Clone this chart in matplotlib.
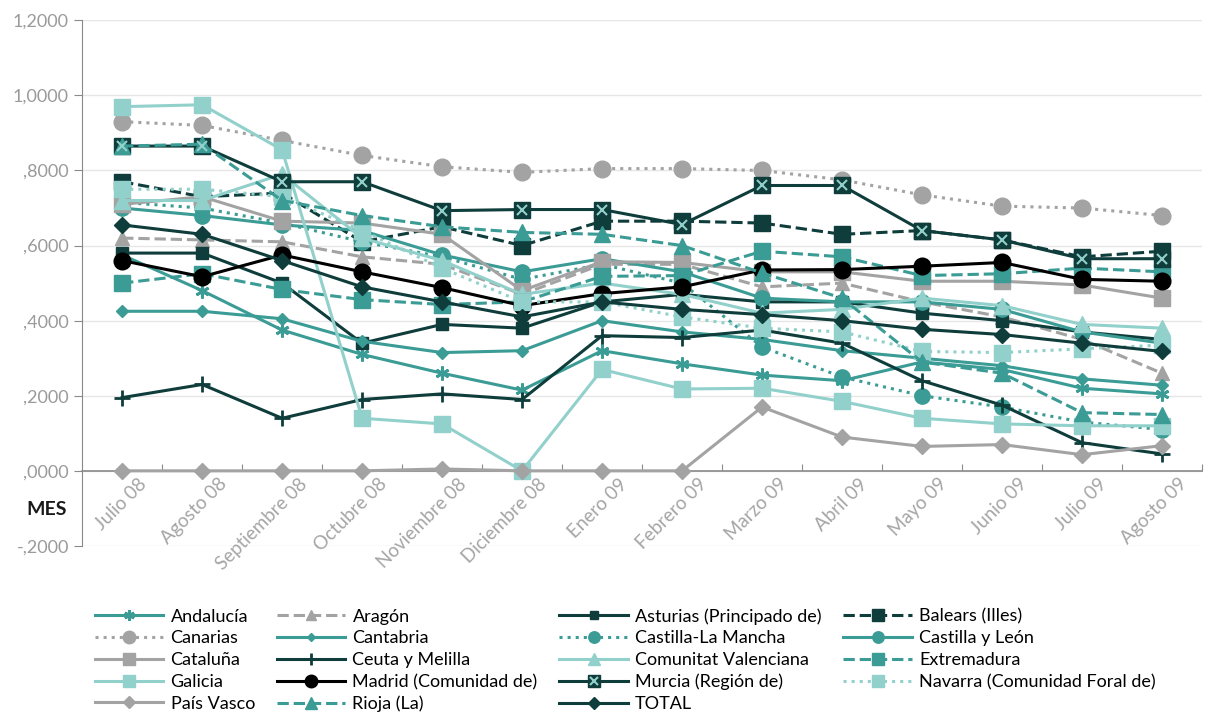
import numpy as np
import matplotlib
matplotlib.use("Agg")
from matplotlib import pyplot as plt
from matplotlib.ticker import FuncFormatter, FixedLocator
from matplotlib.legend_handler import HandlerTuple

plt.rcParams['font.family'] = ['Lato', 'DejaVu Sans']

# meses
meses = ['Julio 08', 'Agosto 08', 'Septiembre 08', 'Octubre 08', 'Noviembre 08',
         'Diciembre 08', 'Enero 09', 'Febrero 09', 'Marzo 09', 'Abril 09',
         'Mayo 09', 'Junio 09', 'Julio 09', 'Agosto 09']

# valores por comunidad
andalucia = [0.575, 0.48, 0.375, 0.31, 0.26, 0.215, 0.32, 0.285, 0.255, 0.24, 0.29, 0.27, 0.22, 0.205]
aragon = [0.62, 0.615, 0.61, 0.57, 0.55, 0.47, 0.55, 0.55, 0.49, 0.50, 0.45, 0.41, 0.35, 0.26]
asturias = [0.58, 0.58, 0.50, 0.34, 0.39, 0.38, 0.45, 0.47, 0.45, 0.45, 0.42, 0.40, 0.37, 0.35]
balears = [0.77, 0.73, 0.74, 0.61, 0.65, 0.60, 0.665, 0.665, 0.66, 0.63, 0.64, 0.615, 0.57, 0.585]
canarias = [0.93, 0.92, 0.88, 0.84, 0.81, 0.795, 0.805, 0.805, 0.80, 0.775, 0.735, 0.705, 0.70, 0.68]
cantabria = [0.425, 0.425, 0.405, 0.345, 0.315, 0.32, 0.40, 0.37, 0.35, 0.32, 0.30, 0.28, 0.245, 0.228]
castilla_lm = [0.715, 0.70, 0.66, 0.61, 0.57, 0.51, 0.55, 0.50, 0.33, 0.25, 0.20, 0.17, 0.13, 0.11]
castilla_leon = [0.70, 0.68, 0.655, 0.64, 0.575, 0.53, 0.565, 0.53, 0.46, 0.45, 0.45, 0.43, 0.37, 0.34]
cataluna = [0.71, 0.73, 0.665, 0.66, 0.63, 0.48, 0.557, 0.555, 0.53, 0.53, 0.505, 0.505, 0.495, 0.46]
ceuta = [0.195, 0.23, 0.14, 0.19, 0.205, 0.19, 0.36, 0.355, 0.375, 0.34, 0.24, 0.175, 0.075, 0.045]
valenciana = [0.72, 0.72, 0.79, 0.62, 0.56, 0.47, 0.50, 0.47, 0.42, 0.43, 0.46, 0.44, 0.39, 0.38]
extremadura = [0.50, 0.525, 0.483, 0.456, 0.443, 0.45, 0.518, 0.52, 0.585, 0.57, 0.52, 0.525, 0.54, 0.53]
galicia = [0.97, 0.975, 0.855, 0.14, 0.125, 0.0, 0.27, 0.218, 0.22, 0.185, 0.14, 0.125, 0.12, 0.12]
madrid = [0.56, 0.517, 0.575, 0.53, 0.488, 0.44, 0.472, 0.49, 0.535, 0.536, 0.545, 0.555, 0.51, 0.505]
murcia = [0.865, 0.865, 0.77, 0.77, 0.693, 0.696, 0.696, 0.656, 0.76, 0.76, 0.64, 0.615, 0.565, 0.565]
navarra = [0.75, 0.75, 0.73, 0.64, 0.54, 0.45, 0.45, 0.41, 0.38, 0.37, 0.318, 0.315, 0.325, 0.335]
pais_vasco = [0.0, 0.0, 0.0, 0.0, 0.005, 0.0, 0.0, 0.0, 0.17, 0.09, 0.065, 0.07, 0.043, 0.067]
rioja = [0.865, 0.87, 0.72, 0.68, 0.65, 0.635, 0.63, 0.60, 0.527, 0.46, 0.29, 0.26, 0.155, 0.15]
total = [0.655, 0.63, 0.56, 0.49, 0.45, 0.41, 0.45, 0.43, 0.416, 0.40, 0.377, 0.363, 0.34, 0.318]

# colores
oscuro = '#0e3d3b'
medio = '#3b9b95'
claro = '#92d0cb'
gris = '#a3a3a3'
negro = '#000000'

# nombre, datos, color, estilo, marcador, tamaño
series = [
    ('Andalucía', andalucia, medio, '-', (6, 2, 0), 10),
    ('Aragón', aragon, gris, '--', '^', 10),
    ('Asturias (Principado de)', asturias, oscuro, '-', 's', 8),
    ('Balears (Illes)', balears, oscuro, '--', 's', 11),
    ('Canarias', canarias, gris, ':', 'o', 12),
    ('Cantabria', cantabria, medio, '-', 'D', 6),
    ('Castilla-La Mancha', castilla_lm, medio, ':', 'o', 11),
    ('Castilla y León', castilla_leon, medio, '-', 'o', 11),
    ('Cataluña', cataluna, gris, '-', 's', 11),
    ('Ceuta y Melilla', ceuta, oscuro, '-', '+', 12),
    ('Comunitat Valenciana', valenciana, claro, '-', '^', 11),
    ('Extremadura', extremadura, medio, '--', 's', 11),
    ('Galicia', galicia, claro, '-', 's', 12),
    ('Madrid (Comunidad de)', madrid, negro, '-', 'o', 12),
    ('Murcia (Región de)', murcia, oscuro, '-', 's', 12),
    ('Navarra (Comunidad Foral de)', navarra, claro, ':', 's', 12),
    ('País Vasco', pais_vasco, gris, '-', 'D', 8),
    ('Rioja (La)', rioja, medio, '--', '^', 11),
    ('TOTAL', total, oscuro, '-', 'D', 8),
]

fig = plt.figure(figsize=(12.08, 7.25), dpi=100)
ax = fig.add_axes([0.068, 0.247, 0.927, 0.725])

x = np.arange(len(meses))
handles = {}
for nombre, datos, color, estilo, marca, tam in series:
    mew = 2 if marca in ('+', (6, 2, 0)) else 1
    ln, = ax.plot(x, datos, color=color, linestyle=estilo, linewidth=2.2,
                  marker=marca, markersize=tam, markeredgewidth=mew,
                  markeredgecolor=color, zorder=3)
    h = ln
    if nombre.startswith('Murcia'):
        cruz, = ax.plot(x, datos, linestyle='none', marker='x', markersize=7,
                        markeredgewidth=1.5, color=claro, zorder=4)
        h = (ln, cruz)
    handles[nombre] = h

# ejes
ax.set_ylim(-0.2, 1.2)
ax.set_xlim(-0.5, 13.5)
ax.yaxis.set_major_locator(FixedLocator(np.arange(-0.2, 1.21, 0.2)))


def fmt(v, pos):
    s = '%.4f' % v
    s = s.replace('.', ',')
    if s.startswith('0,'):
        s = s[1:]
    if s.startswith('-0,'):
        s = '-' + s[2:]
    if s == '-,0000':
        s = ',0000'
    return s


ax.yaxis.set_major_formatter(FuncFormatter(fmt))
ax.grid(axis='y', color='#e6e6e6', linewidth=1)
ax.set_axisbelow(True)
for s in ['top', 'right']:
    ax.spines[s].set_visible(False)
ax.spines['left'].set_color('#8a8a8a')
ax.spines['bottom'].set_position(('data', 0))
ax.spines['bottom'].set_color('#8a8a8a')
ax.spines['bottom'].set_linewidth(1.2)
ax.tick_params(axis='y', colors='#8a8a8a', labelsize=13, length=6, labelcolor='#9a9a9a')
ax.set_xticks(np.arange(0.5, 13.6, 1))
ax.set_xticklabels([])
ax.tick_params(axis='x', direction='in', length=5, colors='#8a8a8a')

for i, m in enumerate(meses):
    ax.text(i + 0.2, -0.012, m, rotation=45, ha='right', va='top',
            fontsize=13.5, color='#a5a5a5', rotation_mode='anchor')

fig.text(0.022, 0.29, 'MES', fontsize=14, fontweight='bold', color='#1a1a1a')

# leyenda en orden por filas
orden = ['Andalucía', 'Canarias', 'Cataluña', 'Galicia', 'País Vasco',
         'Aragón', 'Cantabria', 'Ceuta y Melilla', 'Madrid (Comunidad de)', 'Rioja (La)',
         'Asturias (Principado de)', 'Castilla-La Mancha', 'Comunitat Valenciana',
         'Murcia (Región de)', 'TOTAL',
         'Balears (Illes)', 'Castilla y León', 'Extremadura', 'Navarra (Comunidad Foral de)']
fig.legend([handles[n] for n in orden], orden, ncol=4, loc='lower left',
           bbox_to_anchor=(0.065, -0.005), frameon=False, fontsize=13,
           handlelength=3.8, handletextpad=0.4, columnspacing=1.2,
           labelspacing=0.32, markerscale=0.75,
           handler_map={tuple: HandlerTuple(ndivide=1, pad=0)})

fig.savefig('out.png', dpi=100)
